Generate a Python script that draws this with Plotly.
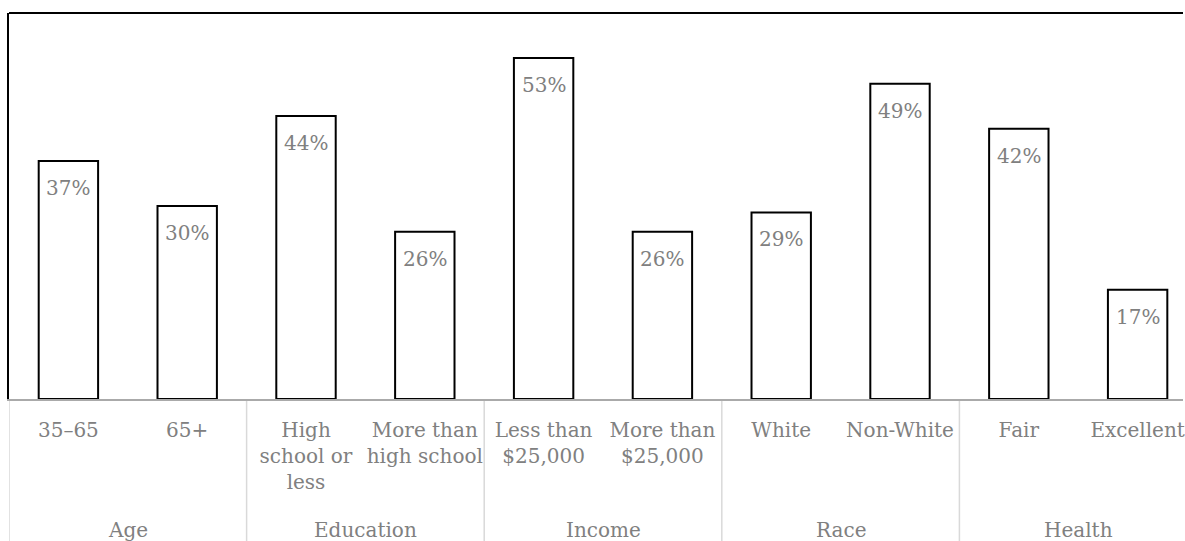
import plotly.graph_objects as go

groups = ["Age", "Education", "Income", "Race", "Health"]
categories = ["35–65", "65+",
              "High<br>school or<br>less", "More than<br>high school",
              "Less than<br>$25,000", "More than<br>$25,000",
              "White", "Non-White",
              "Fair", "Excellent"]
group_of = [0, 0, 1, 1, 2, 2, 3, 3, 4, 4]
values = [37, 30, 44, 26, 53, 26, 29, 49, 42, 17]
labels = [f"{v}%" for v in values]

FONT = "DejaVu Serif"
GRAY = "#808080"

xs = list(range(len(values)))

fig = go.Figure()
fig.add_trace(go.Bar(
    x=xs, y=values, width=0.5,
    marker=dict(color="white", line=dict(color="black", width=2)),
    hoverinfo="skip",
))

# value labels inside the top of each bar
for x, v, t in zip(xs, values, labels):
    fig.add_annotation(x=x, y=v, text=t, xref="x", yref="y",
                       yanchor="top", showarrow=False, yshift=-13,
                       font=dict(family=FONT, size=20, color=GRAY))

# group labels
for gi, g in enumerate(groups):
    members = [x for x, gg in zip(xs, group_of) if gg == gi]
    cx = sum(members) / len(members)
    fig.add_annotation(x=cx, y=-0.302, text=g, xref="x", yref="paper",
                       yanchor="top", showarrow=False,
                       font=dict(family=FONT, size=20, color=GRAY))

# dividers between groups
ends = [max(x for x, gg in zip(xs, group_of) if gg == gi) for gi in range(len(groups))]
bounds = [-0.5] + [e + 0.5 for e in ends]
for b in bounds:
    fig.add_shape(type="line", xref="x", yref="paper", x0=b, x1=b, y0=0, y1=-0.5,
                  line=dict(color="#d9d9d9", width=1.5), layer="below")

# top frame line
fig.add_shape(type="line", xref="paper", yref="paper", x0=0, x1=1, y0=1, y1=1,
              line=dict(color="black", width=2))

fig.update_layout(
    width=1185, height=541,
    margin=dict(l=9, r=0, t=13, b=142),
    plot_bgcolor="white", paper_bgcolor="white",
    showlegend=False,
    xaxis=dict(range=[-0.5, 9.382], tickvals=xs, ticktext=categories,
               showgrid=False, zeroline=False, showline=True,
               linecolor="#aaaaaa", linewidth=2, ticks="",
               tickfont=dict(family=FONT, size=20, color=GRAY),
               ticklabelstandoff=12, ticklabeloverflow="allow",
               fixedrange=True),
    yaxis=dict(range=[0, 60], showgrid=False, zeroline=False,
               showticklabels=False, showline=True, linecolor="black",
               linewidth=2, ticks="", fixedrange=True),
)

fig.write_html("out.html", config={"displayModeBar": False})
with open("out.html", "r", encoding="utf-8") as f:
    html = f.read()
html = html.replace("<body>", '<body style="margin:0;padding:0;overflow:hidden">', 1)
with open("out.html", "w", encoding="utf-8") as f:
    f.write(html)
